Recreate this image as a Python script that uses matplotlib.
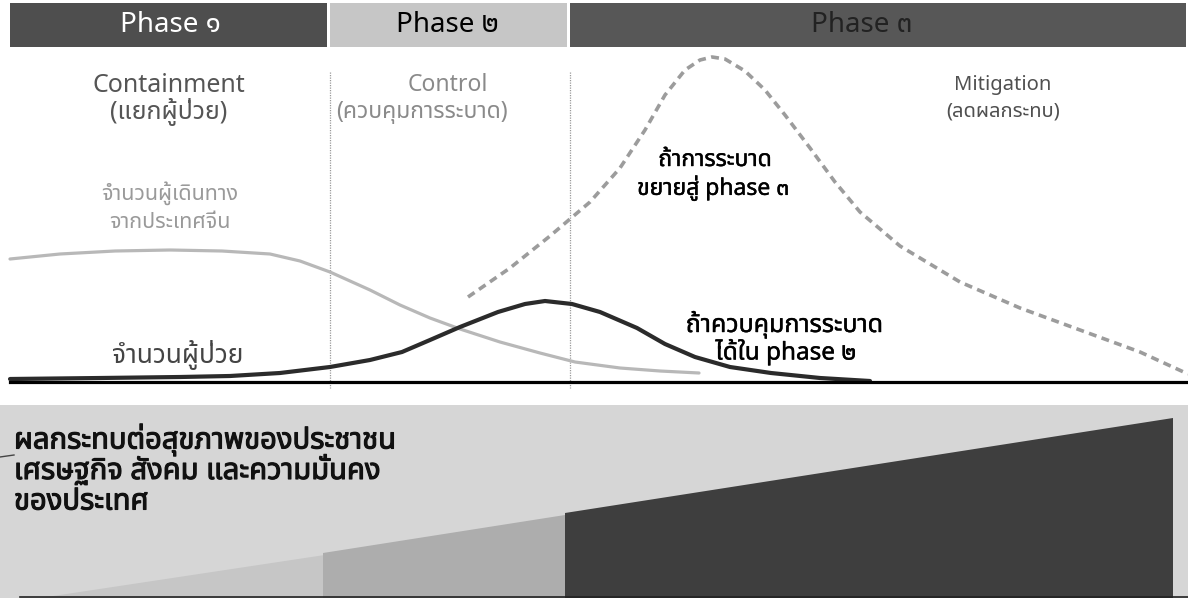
import matplotlib
matplotlib.use("Agg")
import matplotlib.pyplot as plt
import matplotlib.font_manager as fm
import matplotlib.patheffects as pe
from matplotlib.patches import Rectangle, Polygon

# ---------------- fonts ----------------
def thai_family():
    preferred = ['Noto Sans Thai', 'Noto Sans Thai UI', 'Noto Sans Thai Looped',
                 'Noto Looped Thai', 'Sarabun', 'Tahoma', 'Leelawadee UI', 'Loma',
                 'Garuda', 'Waree', 'Umpush', 'Norasi', 'Kinnari', 'Laksaman']
    avail = {f.name for f in fm.fontManager.ttflist}
    for p in preferred:
        if p in avail:
            return p
    try:
        from fontTools.ttLib import TTFont
    except ImportError:
        return None
    for f in fm.fontManager.ttflist:
        try:
            tt = TTFont(f.fname, fontNumber=0, lazy=True)
            cm = tt.getBestCmap() or {}
            if 0x0E01 in cm and 0x0E51 in cm:
                return f.name
        except Exception:
            continue
    return None

TH = thai_family()
FAMILY = ['Noto Sans'] + ([TH] if TH else []) + ['DejaVu Sans']
plt.rcParams['font.family'] = FAMILY

# ---------------- data ----------------
phase_labels = ['Phase ๑', 'Phase ๒', 'Phase ๓']
phase_bounds = [10, 329, 569, 1188]          # horizontal extent of each phase
strategy_en = ['Containment', 'Control', 'Mitigation']
strategy_th = ['(แยกผู้ป่วย)', '(ควบคุมการระบาด)', '(ลดผลกระทบ)']

# travellers from China (light grey curve)
travel_x = [10, 60, 115, 170, 222, 270, 300, 330, 370, 400, 430, 460, 500, 540, 575, 620, 660, 699]
travel_y = [123, 128, 131, 132, 131, 128, 121, 110, 92, 77, 64, 53, 40, 29, 20, 14, 11, 9]

# patients if controlled in phase 2 (dark curve)
patient_x = [10, 100, 180, 230, 280, 330, 370, 402, 430, 460, 498, 525, 545, 572, 600, 637,
             665, 695, 730, 771, 820, 870]
patient_y = [3, 4, 5, 6, 9, 15, 22, 30, 42, 55, 70, 78, 81, 78, 70, 54, 38, 25, 15, 9, 4, 1]

# patients if epidemic spreads to phase 3 (dashed curve)
spread_x = [468, 510, 550, 590, 620, 645, 665, 685, 700, 712, 725, 745, 765, 785, 810, 835,
            860, 900, 960, 1020, 1080, 1140, 1188]
spread_y = [85, 114, 146, 180, 214, 252, 287, 312, 322, 325, 323, 311, 292, 267, 234, 200,
            170, 136, 100, 74, 52, 30, 8]

# impact wedge (height of the impact band at each phase boundary)
impact_x = [40, 323, 565, 1173]
impact_top = [-216, -171, -131, -36]

# ---------------- figure ----------------
fig = plt.figure(figsize=(11.88, 6.02), dpi=100)
ax = fig.add_axes([0, 0, 1, 1])
ax.set_xlim(0, 1188)
ax.set_ylim(-220, 382)
ax.axis('off')

# header bars
bar_colors = ['#4e4e4e', '#c6c6c6', '#575757']
text_colors = ['white', 'black', '#222222']
for i in range(3):
    x0 = phase_bounds[i] if i == 0 else phase_bounds[i] + 1
    x1 = phase_bounds[i + 1] - 2
    ax.add_patch(Rectangle((x0, 335), x1 - x0, 44, color=bar_colors[i], lw=0, zorder=1))
cent_x = [170, 447, 862]
for i in range(3):
    ax.text(cent_x[i], 357, phase_labels[i], ha='center', va='center', fontsize=20,
            color=text_colors[i], zorder=3)

# vertical dotted separators
for xv in phase_bounds[1:3]:
    ax.plot([xv + 1, xv + 1], [310, -6], color='#9a9a9a', lw=0.9, ls=(0, (1, 1)), zorder=1)

# strategy labels
strat_x_en = [169, 448, 1003]
strat_x_th = [169, 422, 1003]
strat_col = ['#555555', '#8a8a8a', '#505050']
strat_fs = [18, 16.5, 14.5]
for i in range(3):
    ax.text(strat_x_en[i], 297, strategy_en[i], ha='center', va='center',
            fontsize=strat_fs[i], color=strat_col[i])
    ax.text(strat_x_th[i], 270, strategy_th[i], ha='center', va='center',
            fontsize=strat_fs[i], color=strat_col[i])

# curves
ax.plot(travel_x, travel_y, color='#b8b8b8', lw=2.3, solid_capstyle='round', zorder=2)
ax.plot(spread_x, spread_y, color='#9c9c9c', lw=2.6, ls=(0, (2.2, 1.5)), zorder=2)
ax.plot(patient_x, patient_y, color='#2b2b2b', lw=3.0, solid_capstyle='round', zorder=3)

# baseline
ax.plot([10, 1188], [0, 0], color='black', lw=2.3, zorder=4)

# curve labels
ax.text(170, 189, 'จำนวนผู้เดินทาง', ha='center', va='center', fontsize=15.5, color='#9a9a9a')
ax.text(170, 159, 'จากประเทศจีน', ha='center', va='center', fontsize=15.5, color='#9a9a9a')
ax.text(178, 27, 'จำนวนผู้ป่วย', ha='center', va='center', fontsize=19, color='#444444')
semi = [pe.withStroke(linewidth=0.3, foreground='black')]
ax.text(715, 222, 'ถ้าการระบาด', ha='center', va='center', fontsize=16.5, color='black',
        path_effects=semi)
ax.text(713, 194, 'ขยายสู่ phase ๓', ha='center', va='center', fontsize=16.5, color='black',
        path_effects=semi)
ax.text(784, 57, 'ถ้าควบคุมการระบาด', ha='center', va='center', fontsize=18, color='black',
        path_effects=semi)
ax.text(786, 30, 'ได้ใน phase ๒', ha='center', va='center', fontsize=17.5, color='black',
        path_effects=semi)

# bottom impact panel
ax.add_patch(Rectangle((0, -216), 1188, 193, color='#d6d6d6', lw=0, zorder=1))
wedge_cols = ['#c6c6c6', '#adadad', '#3e3e3e']
for i in range(3):
    poly = [(impact_x[i], -216), (impact_x[i], impact_top[i]),
            (impact_x[i + 1], impact_top[i + 1] if i == 2 else
             impact_top[i] + (impact_top[i + 1] - impact_top[i]) * 0.95),
            (impact_x[i + 1], -216)]
    ax.add_patch(Polygon(poly, closed=True, color=wedge_cols[i], lw=0, zorder=2))
ax.plot([20, 1188], [-215, -215], color='#222222', lw=1.2, zorder=3)
ax.plot([0, 14], [-75, -73], color='#444444', lw=1.0, zorder=3)

impact_lines = ['ผลกระทบต่อสุขภาพของประชาชน', 'เศรษฐกิจ สังคม และความมั่นคง', 'ของประเทศ']
bold_big = [pe.withStroke(linewidth=0.8, foreground='#111111')]
for k, line in enumerate(impact_lines):
    ax.text(14, -58 - 31 * k, line, ha='left', va='center', fontsize=21,
            fontweight='bold', color='#111111', zorder=5, path_effects=bold_big)

fig.savefig('out.png', dpi=100)
